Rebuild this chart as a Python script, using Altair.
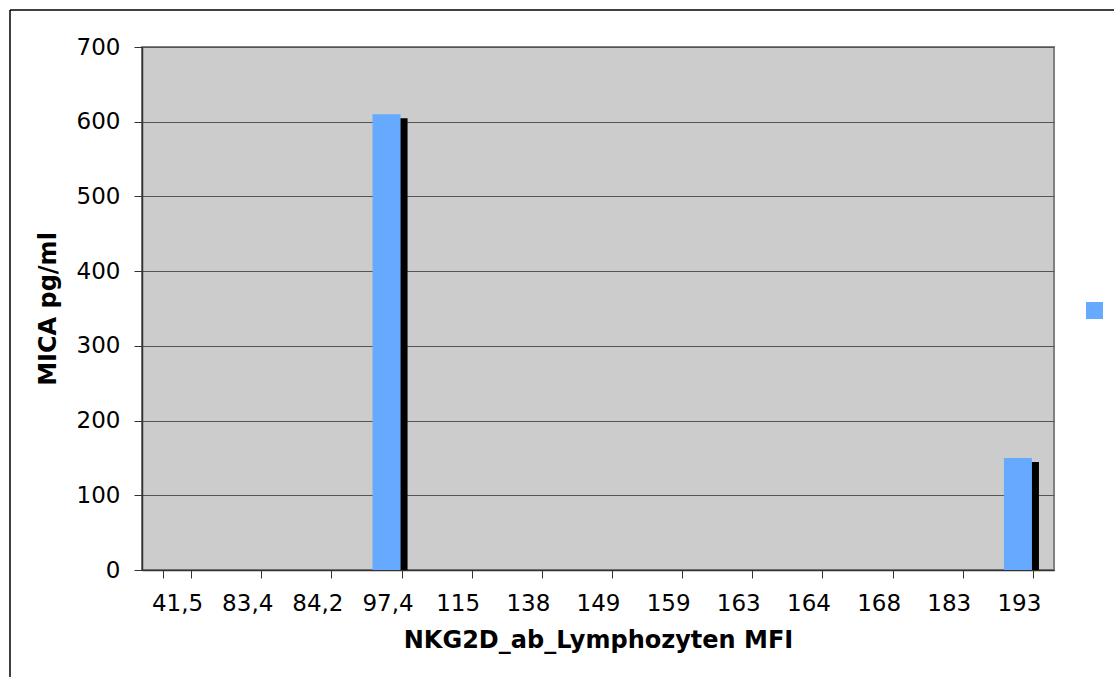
import altair as alt
import pandas as pd

# MICA concentration per NKG2D MFI class
categories = ["41,5", "83,4", "84,2", "97,4", "115", "138", "149", "159",
              "163", "164", "168", "183", "193"]
mica_values = [None, None, None, 610, None, None, None, None,
               None, None, None, None, 150]
series_name = [" "] * len(categories)

df = pd.DataFrame({"mfi": categories, "mica": mica_values, "series": series_name})
bars_df = df.dropna()

FONT = "DejaVu Sans"
BLUE = "#66AAFF"

x_enc = alt.X(
    "mfi:N",
    sort=categories,
    scale=alt.Scale(domain=categories, paddingInner=0.6, paddingOuter=0.3),
    title="NKG2D_ab_Lymphozyten MFI",
    axis=alt.Axis(
        labelAngle=0, tickBand="extent", tickSize=8, labelPadding=14,
        labelFontSize=23, labelColor="#000000", labelFont=FONT,
        titleFont=FONT, titleFontSize=24, titleFontWeight="bold",
        titleColor="#000000", titlePadding=13,
        domainColor="#333333", tickColor="#333333", domainWidth=1.5,
    ),
)
y_scale = alt.Scale(domain=[0, 700], nice=False)
y_axis = alt.Axis(
    values=list(range(0, 701, 100)), tickSize=8, labelPadding=14,
    labelFontSize=23, labelColor="#000000", labelFont=FONT,
    titleFont=FONT, titleFontSize=24, titleFontWeight="bold",
    titleColor="#000000", titlePadding=16,
    grid=True, gridColor="#555555", gridWidth=1,
    domainColor="#333333", tickColor="#333333", domainWidth=1.5,
)

# dark drop shadow behind each bar
shadow = alt.Chart(bars_df).mark_bar(
    color="#000000", xOffset=6, yOffset=4, clip=True
).encode(
    x=x_enc,
    y=alt.Y("mica:Q", scale=y_scale, axis=y_axis, title="MICA pg/ml"),
)

bars = alt.Chart(bars_df).mark_bar(clip=True, xOffset=-1).encode(
    x=x_enc,
    y=alt.Y("mica:Q", scale=y_scale, axis=y_axis, title="MICA pg/ml"),
    color=alt.Color(
        "series:N",
        scale=alt.Scale(range=[BLUE]),
        legend=alt.Legend(
            orient="none", legendX=944, legendY=255, title=None,
            labelExpr="''", symbolType="square", symbolSize=289,
            symbolStrokeWidth=0, symbolFillColor=BLUE, padding=0,
        ),
    ),
)

# outer frame of the chart (left and top edges)
frame_left = alt.Chart().mark_rule(color="#000000", strokeWidth=1.5).encode(
    x=alt.value(-132), y=alt.value(-37), y2=alt.value(700)
)
frame_top = alt.Chart().mark_rule(color="#000000", strokeWidth=1.5).encode(
    x=alt.value(-132), x2=alt.value(1200), y=alt.value(-37)
)

chart = alt.layer(shadow, bars, frame_left, frame_top).properties(
    width=912, height=523,
    autosize=alt.AutoSizeParams(type="none"),
    padding={"left": 142, "top": 47, "right": 60, "bottom": 107},
    background="#FFFFFF",
).configure_view(
    fill="#CCCCCC", stroke="#808080", strokeWidth=2
)

chart.save("out.html", embed_options={"renderer": "svg", "actions": False})
